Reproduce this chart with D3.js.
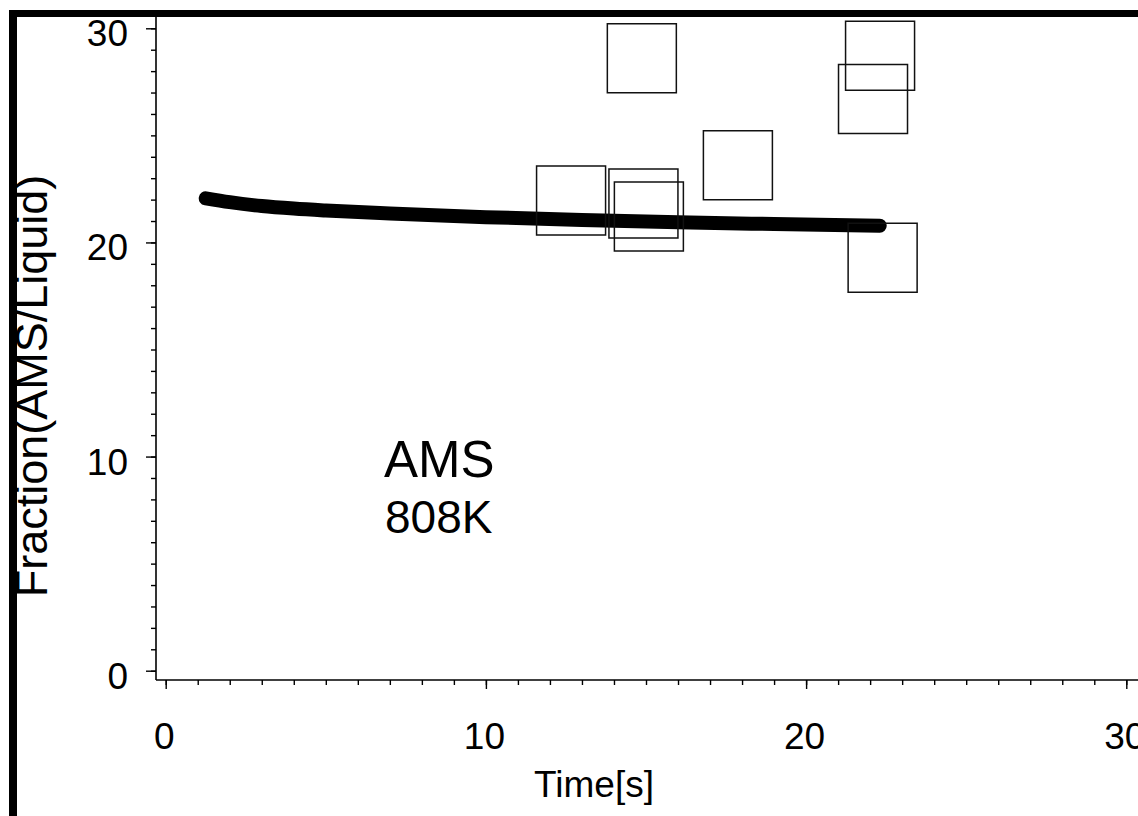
<!DOCTYPE html>
<html>
<head>
<meta charset="utf-8">
<script src="https://cdn.jsdelivr.net/npm/d3@7"></script>
<style>
    html, body { margin: 0; padding: 0; background: #fff; }
    svg { display: block; font-family: "Liberation Sans", Arial, sans-serif; }
</style>
</head>
<body>
<div id="chart"></div>
<script>
// measured samples (squares)
const sampleTime = [12.66, 14.92, 15.09, 17.87, 14.87, 22.31, 22.09, 22.39];
const sampleFraction = [21.96, 21.82, 21.21, 23.60, 28.60, 28.72, 26.70, 19.29];

// model curve (thick line)
const fitTime = [1.25, 2, 3, 4, 5, 7, 10, 13, 16, 19, 22.3];
const fitFraction = [22.06, 21.88, 21.70, 21.58, 21.49, 21.35, 21.18, 21.05, 20.94, 20.86, 20.78];

const xMajor = [0, 10, 20, 30];
const yMajor = [0, 10, 20, 30];
const minorTicks = d3.range(0, 31);

const width = 1138, height = 816;

const svg = d3.select("#chart")
    .append("svg")
    .attr("width", width)
    .attr("height", height);

const x = d3.scaleLinear().domain([0, 30]).range([165.7, 1126.3]);
const y = d3.scaleLinear().domain([0, 30]).range([670.7, 28.3]);

const axisX = 156, axisY = 680;

// frame bars
svg.append("rect").attr("x", 9).attr("y", 10).attr("width", 8).attr("height", height - 10).attr("fill", "#000");
svg.append("rect").attr("x", 9).attr("y", 10).attr("width", width - 9).attr("height", 7).attr("fill", "#000");

// axis lines
svg.append("line")
    .attr("x1", axisX).attr("x2", axisX)
    .attr("y1", 17).attr("y2", axisY)
    .attr("stroke", "#000").attr("stroke-width", 1.6);
svg.append("line")
    .attr("x1", axisX).attr("x2", width)
    .attr("y1", axisY).attr("y2", axisY)
    .attr("stroke", "#000").attr("stroke-width", 1.6);

// minor ticks
const yMinor = svg.append("g")
    .attr("transform", `translate(${axisX},0)`)
    .call(d3.axisLeft(y).tickValues(minorTicks).tickSize(5).tickFormat(""));
const xMinor = svg.append("g")
    .attr("transform", `translate(0,${axisY})`)
    .call(d3.axisBottom(x).tickValues(minorTicks).tickSize(5).tickFormat(""));

// major ticks with labels
const yAxis = svg.append("g")
    .attr("transform", `translate(${axisX},0)`)
    .call(d3.axisLeft(y).tickValues(yMajor).tickSize(10).tickPadding(28).tickFormat(d3.format("d")));
const xAxis = svg.append("g")
    .attr("transform", `translate(0,${axisY})`)
    .call(d3.axisBottom(x).tickValues(xMajor).tickSize(9).tickPadding(42).tickFormat(d3.format("d")));

[yMinor, xMinor, yAxis, xAxis].forEach(a => {
    a.select(".domain").remove();
    a.selectAll("line").attr("stroke", "#000").attr("stroke-width", 1.4);
});

yAxis.selectAll("text")
    .attr("x", -28)
    .attr("dy", "17.5")
    .attr("font-size", 37)
    .attr("font-family", "Liberation Sans, Arial, sans-serif")
    .attr("fill", "#000");
xAxis.selectAll("text")
    .attr("y", 42)
    .attr("dy", "27")
    .attr("dx", -2)
    .attr("font-size", 37)
    .attr("font-family", "Liberation Sans, Arial, sans-serif")
    .attr("fill", "#000");

// axis titles
svg.append("text")
    .attr("x", 594).attr("y", 797)
    .attr("text-anchor", "middle")
    .attr("font-size", 37)
    .text("Time[s]");
svg.append("text")
    .attr("transform", "translate(47,386) rotate(-90)")
    .attr("text-anchor", "middle")
    .attr("font-size", 45)
    .text("Fraction(AMS/Liquid)");

// annotation
svg.append("text")
    .attr("x", 384).attr("y", 477)
    .attr("font-size", 51)
    .text("AMS");
svg.append("text")
    .attr("x", 385).attr("y", 533)
    .attr("font-size", 46)
    .text("808K");

// fitted curve
const fitData = fitTime.map((t, i) => ({ t, f: fitFraction[i] }));
svg.append("path")
    .datum(fitData)
    .attr("fill", "none")
    .attr("stroke", "#000")
    .attr("stroke-width", 14)
    .attr("stroke-linecap", "round")
    .attr("stroke-linejoin", "round")
    .attr("d", d3.line().x(d => x(d.t)).y(d => y(d.f)).curve(d3.curveMonotoneX));

// sample squares
const samples = sampleTime.map((t, i) => ({ t, f: sampleFraction[i] }));
svg.append("g")
    .selectAll("path")
    .data(samples)
    .join("path")
    .attr("transform", d => `translate(${x(d.t)},${y(d.f)})`)
    .attr("d", d3.symbol().type(d3.symbolSquare).size(69 * 69))
    .attr("fill", "none")
    .attr("stroke", "#111")
    .attr("stroke-width", 1.5);
</script>
</body>
</html>
